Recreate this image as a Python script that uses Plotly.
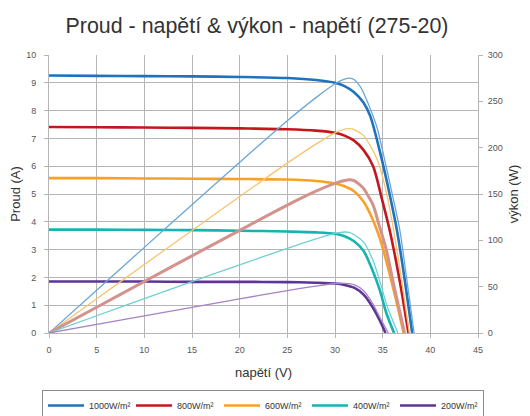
import plotly.graph_objects as go

# ---------------- data ----------------
irr_names = ["1000W/m²", "800W/m²", "600W/m²", "400W/m²", "200W/m²"]

# current (A) vs voltage (V)
v_i_1000 = [0, 5, 10, 15, 20, 25, 28, 30, 31, 32, 33, 33.7, 34.8, 35.6, 36.5, 37.3, 38.1]
i_1000 = [9.26, 9.25, 9.24, 9.23, 9.21, 9.17, 9.1, 9.0, 8.88, 8.66, 8.28, 7.8, 6.4, 5.2, 3.69, 1.95, 0]

v_i_800 = [0, 5, 10, 15, 20, 25, 28, 30, 31, 32, 33, 34, 34.9, 35.8, 36.8, 37.7]
i_800 = [7.41, 7.40, 7.39, 7.38, 7.36, 7.33, 7.28, 7.2, 7.1, 6.92, 6.58, 6.0, 4.85, 3.6, 1.85, 0]

v_i_600 = [0, 5, 10, 15, 20, 25, 28, 30, 31, 32, 33, 34, 34.8, 35.6, 36.4, 37.2]
i_600 = [5.57, 5.57, 5.56, 5.55, 5.54, 5.52, 5.47, 5.38, 5.28, 5.1, 4.72, 4.05, 3.3, 2.3, 1.2, 0]

v_i_400 = [0, 5, 10, 15, 20, 25, 28, 30, 31, 32, 33, 34, 34.7, 35.4, 36.2]
i_400 = [3.72, 3.72, 3.71, 3.70, 3.68, 3.65, 3.62, 3.57, 3.48, 3.3, 2.95, 2.2, 1.54, 0.7, 0]

v_i_200 = [0, 5, 10, 15, 20, 25, 28, 30, 31, 32, 33, 34, 34.7, 35.3]
i_200 = [1.85, 1.85, 1.85, 1.84, 1.84, 1.83, 1.81, 1.78, 1.73, 1.63, 1.38, 0.9, 0.45, 0]

# power (W) vs voltage (V)
v_p_1000 = [0, 5, 10, 15, 20, 25, 28, 30, 31, 31.5, 32, 32.7, 33.3, 34, 34.4, 35.1, 36, 36.8, 37.5, 38.3]
p_1000 = [0, 46.2, 92.4, 138.5, 184.2, 229, 254, 269, 274, 275, 273.5, 265, 252, 234, 222, 192, 150, 111, 60, 0]

v_p_800 = [0, 5, 10, 15, 20, 25, 28, 30, 31, 31.6, 32, 33, 33.7, 34.4, 35.2, 36, 36.8, 37.8]
p_800 = [0, 37, 73.9, 110.7, 147.2, 183.3, 203.8, 216, 220, 220.6, 219.5, 213, 202, 188, 160, 120, 70, 0]

v_p_600 = [0, 5, 10, 15, 20, 25, 28, 30, 31, 31.5, 32, 33, 33.3, 34, 34.55, 35.4, 36.2, 37.3]
p_600 = [0, 27.8, 55.6, 83.3, 110.8, 138, 153, 161.4, 164.5, 165.5, 164.5, 156, 151, 138, 119, 89, 50, 0]

v_p_400 = [0, 5, 10, 15, 20, 25, 28, 30, 31, 31.5, 32, 33, 34, 34.7, 35.5, 36.6]
p_400 = [0, 18.6, 37.1, 55.4, 73.6, 91.3, 101.5, 107.5, 109, 108.5, 106, 98, 78, 56, 28, 0]

v_p_200 = [0, 5, 10, 15, 20, 25, 28, 30, 31, 32, 33, 34, 34.7, 35.6]
p_200 = [0, 9.2, 18.5, 27.6, 36.8, 45.8, 50.7, 53.4, 53.6, 52.2, 45.5, 31, 17, 0]

x_ticks = [0, 5, 10, 15, 20, 25, 30, 35, 40, 45]

# ---------------- styles ----------------
i_colors = ["#1f72bd", "#c4161c", "#f7a128", "#17b3b3", "#5e3596"]
p_colors = ["#6aa7d8", "#f7c46e", "#d4928d", "#6fd0cf", "#a583c4"]
p_widths = [1.3, 1.3, 3.0, 1.3, 1.3]

i_sets = [(v_i_1000, i_1000), (v_i_800, i_800), (v_i_600, i_600), (v_i_400, i_400), (v_i_200, i_200)]
p_sets = [(v_p_1000, p_1000), (v_p_800, p_800), (v_p_600, p_600), (v_p_400, p_400), (v_p_200, p_200)]

fig = go.Figure()

for k in range(5):
    vx, py = p_sets[k]
    fig.add_trace(go.Scatter(
        x=vx, y=py, mode="lines", yaxis="y2", showlegend=False,
        line=dict(color=p_colors[k], width=p_widths[k], shape="spline", smoothing=0.8),
        hoverinfo="skip"))

for k in range(5):
    vx, iy = i_sets[k]
    fig.add_trace(go.Scatter(
        x=vx, y=iy, mode="lines", name=irr_names[k],
        line=dict(color=i_colors[k], width=2.6, shape="spline", smoothing=0.8)))

grid = "#b5b5b5"
tickfont = dict(family="Liberation Sans, Arial, sans-serif", size=9, color="#555555")
titlefont = dict(family="Liberation Sans, Arial, sans-serif", size=13, color="#333333")

# page has an 8px body margin -> figure is 522x408 so it fills the 530x416 window
W, H = 522, 408
fig.update_layout(
    width=W, height=H,
    margin=dict(l=41, r=52, t=47, b=83, autoexpand=False),
    paper_bgcolor="white", plot_bgcolor="white",
    title=dict(text="Proud - napětí & výkon - napětí (275-20)",
               x=249 / W, xanchor="center", xref="container",
               y=1 - 18 / H, yanchor="middle", yref="container",
               font=dict(family="Liberation Sans, Arial, sans-serif", size=21.4, color="#333333")),
    xaxis=dict(range=[0, 45], tickvals=x_ticks, showgrid=True, gridcolor=grid, gridwidth=1,
               showline=True, linecolor=grid, linewidth=1, mirror=False,
               ticks="outside", ticklen=4, tickcolor=grid, zeroline=False,
               tickfont=tickfont, automargin=False, ticklabelstandoff=4,
               title=dict(text="napětí (V)", font=titlefont, standoff=14)),
    yaxis=dict(range=[0, 10], dtick=1, showgrid=True, gridcolor=grid, gridwidth=1,
               showline=True, linecolor=grid, linewidth=1,
               ticks="outside", ticklen=4, tickcolor=grid, zeroline=False,
               tickfont=tickfont, automargin=False, ticklabelstandoff=6,
               title=dict(text="Proud (A)", font=titlefont, standoff=11)),
    yaxis2=dict(range=[0, 300], dtick=50, overlaying="y", side="right", showgrid=False,
                showline=True, linecolor=grid, linewidth=1,
                ticks="outside", ticklen=4, tickcolor=grid, zeroline=False,
                tickfont=tickfont, automargin=False, ticklabelstandoff=3,
                title=dict(text="výkon (W)", font=titlefont, standoff=7)),
    legend=dict(orientation="h", xref="paper", x=(34 - 41) / 429, xanchor="left",
                yref="paper", y=(325 - 382) / 278, yanchor="top",
                bordercolor="#8c8c8c", borderwidth=1, bgcolor="white",
                font=dict(family="Liberation Sans, Arial, sans-serif", size=9, color="#333333"),
                entrywidth=37, entrywidthmode="pixels", itemwidth=36),
)

fig.write_html("out.html")
